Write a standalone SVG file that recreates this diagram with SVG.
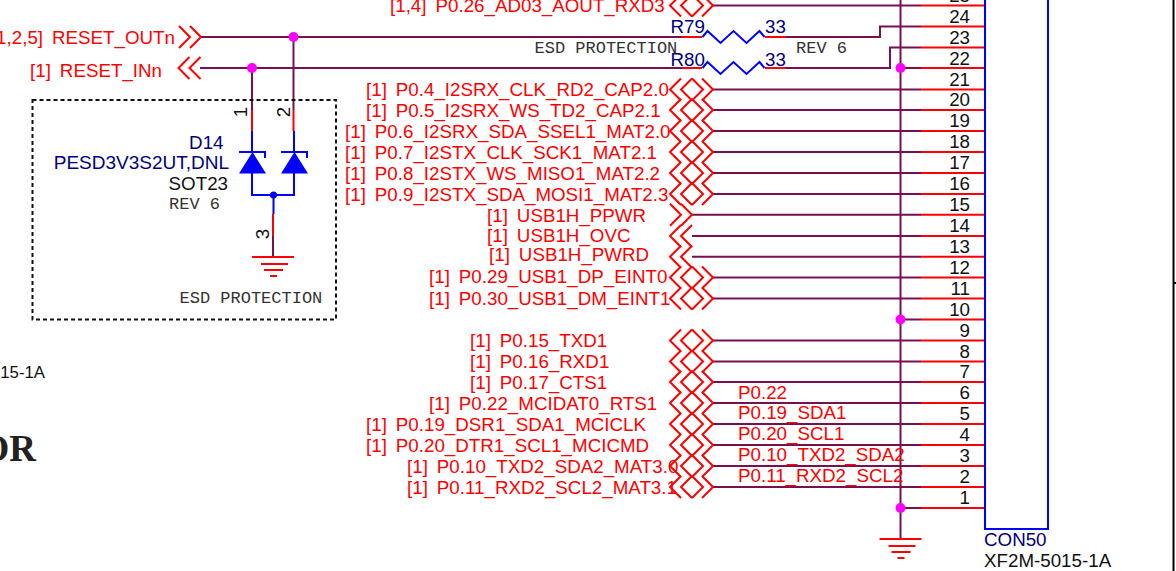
<svg xmlns="http://www.w3.org/2000/svg" width="1176" height="571" viewBox="0 0 1176 571">
<style>
text{font-family:"Liberation Sans",Arial,sans-serif;font-size:18.750px;white-space:pre}
.r{fill:#f00;word-spacing:-0.700px}.n{fill:#000080}.k{fill:#111}
.e{text-anchor:end}
.m{font-family:"Liberation Mono","Courier New",monospace;font-size:17px;fill:#333}
.w,.rw,.bw,.sym{fill:none;stroke-width:2}
.w{stroke:#7a0f4f}.rw{stroke:#f00}.bw{stroke:#00f}.sym{stroke:#f00}
.j{fill:#f0f}
</style>
<defs>
<g id="bi"><path class="sym" d="M11-11 0 0 11 11M22-11 11 0 22 11M22-11 33 0 22 11M32-11 43 0 32 11"/></g>
<g id="out"><path class="sym" d="M0-11 11 0 0 11M11-11 22 0 11 11"/></g>
<g id="in"><path class="sym" d="M11-11 0 0 11 11M22-11 11 0 22 11"/></g>
<path id="res" class="bw" d="M0 0 5-6 18 6 31-6 44 6 57-6 62 0"/>
<path id="gnd" class="rw" d="M-21 0H21M-12 7H15M-9 13H10M-3 19H4"/>
</defs>
<g id="connectors">
<path class="w" d="M900.5 0V539"/>
<path class="w" d="M200 37H682M786 37H880V26.500H921"/>
<path class="w" d="M200 68H682M786 68H890V47.500H921M900 68H921"/>
<path class="w" d="M293.500 37V110M252 68V110"/>
<path class="rw" d="M293.500 110V131M252 110V131M682 37H702M682 68H702M765 37H786M765 68H786"/>
<path class="w" d="M712 5.500H921M712 89.500H921M712 110H921M712 131H921M712 152H921M712 173H921M712 194H921M692 214.700H921M692 236H921M692 256.700H921M712 277.500H921M712 298.500H921M900 319.500H921M712 340.500H921M712 361.500H921M712 382H921M712 403H921M712 424H921M712 445H921M712 466H921M712 487H921M900 508H921"/>
<path class="rw" d="M921 5.500H985M921 26.500H985M921 47.500H985M921 68H985M921 89.500H985M921 110H985M921 131H985M921 152H985M921 173H985M921 194H985M921 214.700H985M921 236H985M921 256.700H985M921 277.500H985M921 298.500H985M921 319.500H985M921 340.500H985M921 361.500H985M921 382H985M921 403H985M921 424H985M921 445H985M921 466H985M921 487H985M921 508H985"/>
<circle class="j" cx="293.500" cy="37" r="5"/><circle class="j" cx="252" cy="68" r="5"/>
<circle class="j" cx="900.500" cy="68" r="5"/><circle class="j" cx="900.500" cy="319.500" r="5"/><circle class="j" cx="900.500" cy="508" r="5"/>
<use href="#gnd" x="900.500" y="539"/>
</g>
<g id="R79"><use href="#res" x="702.500" y="37"/><text class="n" x="670.500" y="33">R79</text><text class="n" x="765" y="33">33</text></g>
<g id="R80"><use href="#res" x="702.500" y="68"/><text class="n" x="670.500" y="65.500">R80</text><text class="n" x="765" y="65.500">33</text></g>
<g id="D14">
<path class="bw" d="M252 131V152M294 131V152M239 152H265V158M281 152H307V158M252 173V195H294V173M273.500 195V214"/>
<path d="M239 173.500H266L252.500 152ZM281 173.500H308L294.500 152Z" fill="#00f"/>
<circle cx="273.500" cy="195" r="3.500" fill="#00f"/>
<path class="rw" d="M273 214V236"/><path class="w" d="M273 236V256"/>
<use href="#gnd" x="273" y="257"/>
<text class="k" transform="translate(247 112) rotate(-90)" text-anchor="middle">1</text>
<text class="k" transform="translate(290 112) rotate(-90)" text-anchor="middle">2</text>
<text class="k" transform="translate(269 234) rotate(-90)" text-anchor="middle">3</text>
<text class="n e" x="223.500" y="148.500">D14</text>
<text class="n e" x="229" y="169" style="font-size:19px">PESD3V3S2UT,DNL</text>
<text class="k e" x="228" y="190">SOT23</text>
<text class="m" x="169" y="209">REV 6</text>
</g>
<g id="esd-box"><rect x="32.500" y="100" width="303.500" height="219.500" fill="none" stroke="#111" stroke-width="2" stroke-dasharray="4 3"/>
<text class="m" x="179.500" y="303">ESD PROTECTION</text></g>
<text class="m" x="534.500" y="53">ESD PROTECTION</text>
<text class="m" x="796" y="53">REV 6</text>
<g id="CON50"><path class="bw" d="M1048 0V529H985V0"/>
<text class="n" x="984" y="545.500">CON50</text><text class="k" x="984" y="567">XF2M-5015-1A</text>
<g class="pins">
<text class="k e" x="970" y="2">25</text><text class="k e" x="970" y="23">24</text><text class="k e" x="970" y="44">23</text><text class="k e" x="970" y="65">22</text><text class="k e" x="970" y="86">21</text><text class="k e" x="970" y="106">20</text><text class="k e" x="970" y="127">19</text><text class="k e" x="970" y="148">18</text><text class="k e" x="970" y="169">17</text><text class="k e" x="970" y="190">16</text><text class="k e" x="970" y="211">15</text><text class="k e" x="970" y="232">14</text><text class="k e" x="970" y="253">13</text><text class="k e" x="970" y="274">12</text><text class="k e" x="970" y="295">11</text><text class="k e" x="970" y="316">10</text><text class="k e" x="970" y="337">9</text><text class="k e" x="970" y="358">8</text><text class="k e" x="970" y="378">7</text><text class="k e" x="970" y="399">6</text><text class="k e" x="970" y="420">5</text><text class="k e" x="970" y="441">4</text><text class="k e" x="970" y="462">3</text><text class="k e" x="970" y="483">2</text><text class="k e" x="970" y="504">1</text>
</g></g>
<g id="ports">
<use href="#out" x="179" y="37"/><use href="#in" x="178.500" y="68"/>
<use href="#bi" x="670" y="5.500"/><use href="#bi" x="670" y="89.500"/><use href="#bi" x="670" y="110"/><use href="#bi" x="670" y="131"/><use href="#bi" x="670" y="152"/><use href="#bi" x="670" y="173"/><use href="#bi" x="670" y="194"/>
<use href="#out" x="670" y="214.700"/><use href="#in" x="670" y="236"/><use href="#in" x="670" y="256.700"/>
<use href="#bi" x="670" y="277.500"/><use href="#bi" x="670" y="298.500"/>
<use href="#bi" x="670" y="340.500"/><use href="#bi" x="670" y="361.500"/><use href="#bi" x="670" y="382"/><use href="#bi" x="670" y="403"/><use href="#bi" x="670" y="424"/><use href="#bi" x="670" y="445"/><use href="#bi" x="670" y="466"/><use href="#bi" x="670" y="487"/>
</g>
<g id="labels">
<text class="r e" x="175" y="44">[1,2,5]  RESET_OUTn</text>
<text class="r" x="30" y="77">[1]  RESET_INn</text>
<text class="r" x="390" y="12">[1,4]  P0.26_AD03_AOUT_RXD3</text>
<text class="r" x="366" y="96">[1]  P0.4_I2SRX_CLK_RD2_CAP2.0</text>
<text class="r" x="366" y="117">[1]  P0.5_I2SRX_WS_TD2_CAP2.1</text>
<text class="r" x="345" y="138">[1]  P0.6_I2SRX_SDA_SSEL1_MAT2.0</text>
<text class="r" x="345" y="159">[1]  P0.7_I2STX_CLK_SCK1_MAT2.1</text>
<text class="r" x="345" y="180">[1]  P0.8_I2STX_WS_MISO1_MAT2.2</text>
<text class="r" x="345" y="201">[1]  P0.9_I2STX_SDA_MOSI1_MAT2.3</text>
<text class="r" x="487" y="222">[1]  USB1H_PPWR</text>
<text class="r" x="487" y="242">[1]  USB1H_OVC</text>
<text class="r" x="489" y="261">[1]  USB1H_PWRD</text>
<text class="r" x="429" y="283">[1]  P0.29_USB1_DP_EINT0</text>
<text class="r" x="429" y="305">[1]  P0.30_USB1_DM_EINT1</text>
<text class="r" x="470" y="347">[1]  P0.15_TXD1</text>
<text class="r" x="470" y="368">[1]  P0.16_RXD1</text>
<text class="r" x="470" y="389">[1]  P0.17_CTS1</text>
<text class="r" x="429" y="410">[1]  P0.22_MCIDAT0_RTS1</text>
<text class="r" x="366" y="431">[1]  P0.19_DSR1_SDA1_MCICLK</text>
<text class="r" x="366" y="452">[1]  P0.20_DTR1_SCL1_MCICMD</text>
<text class="r" x="407" y="473">[1]  P0.10_TXD2_SDA2_MAT3.0</text>
<text class="r" x="407" y="494">[1]  P0.11_RXD2_SCL2_MAT3.1</text>
<text class="r" x="738" y="399">P0.22</text>
<text class="r" x="738" y="419">P0.19_SDA1</text>
<text class="r" x="738" y="440">P0.20_SCL1</text>
<text class="r" x="738" y="461">P0.10_TXD2_SDA2</text>
<text class="r" x="738" y="482">P0.11_RXD2_SCL2</text>
</g>
<text class="k e" x="45" y="378" style="font-size:16.800px">15-1A</text>
<text x="36" y="461" text-anchor="end" style="font-family:'Liberation Serif',serif;font-weight:700;font-size:37px;fill:#222">OR</text>
<g id="frame"><path d="M1173.500 0V571M1173 283H1176" fill="none" stroke="#000" stroke-width="2"/></g>
</svg>
